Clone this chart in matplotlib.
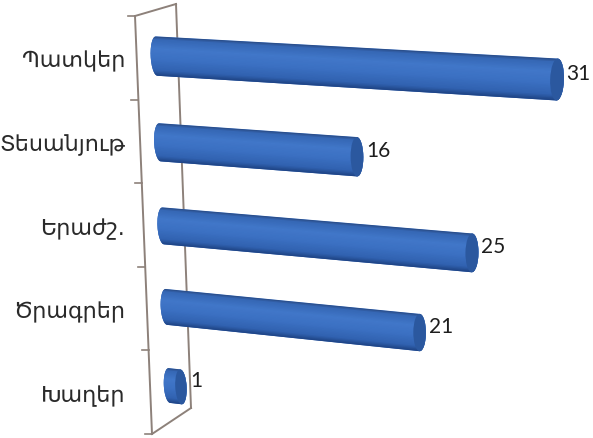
import numpy as np
import matplotlib
matplotlib.use('Agg')
import matplotlib.pyplot as plt
from matplotlib.transforms import Transform, IdentityTransform, offset_copy
from matplotlib.patches import Ellipse, PathPatch, Rectangle
from matplotlib.path import Path
from matplotlib.lines import Line2D
from matplotlib.colors import LinearSegmentedColormap

# data
categories = ['Պատկեր', 'Տեսանյութ', 'Երաժշ.', 'Ծրագրեր', 'Խաղեր']
values = [31, 16, 25, 21, 1]

W, H = 593, 439
XMAX = 32

# where the corners of the (flat) plot plane land in the picture, image pixels (y down)
quad_img = [(155, 13), (572.6, 34.3), (556.6, 471.7), (171, 425)]   # TL, TR, BR, BL
# side wall of the 3d frame, image pixels
wall_front = [(135, 17), (152, 435)]
wall_back = [(176, 5), (191, 409)]


class Warp(Transform):
    """projective warp in display space, gives the 3d look"""
    input_dims = output_dims = 2
    is_separable = False
    has_inverse = True

    def __init__(self, M):
        super().__init__()
        self.M = M

    def transform_non_affine(self, pts):
        pts = np.asarray(pts, float).reshape(-1, 2)
        p = np.column_stack([pts, np.ones(len(pts))]) @ self.M.T
        return p[:, :2] / p[:, 2:3]

    def inverted(self):
        return Warp(np.linalg.inv(self.M))


def homography(src, dst):
    A, b = [], []
    for (x, y), (u, v) in zip(src, dst):
        A.append([x, y, 1, 0, 0, 0, -u * x, -u * y]); b.append(u)
        A.append([0, 0, 0, x, y, 1, -v * x, -v * y]); b.append(v)
    h = np.linalg.solve(np.array(A, float), np.array(b, float))
    return np.append(h, 1).reshape(3, 3)


fig = plt.figure(figsize=(W / 100, H / 100), dpi=100)
fig.patch.set_facecolor('white')
ax = fig.add_axes([0.3, 0.05, 0.65, 0.9])
ax.set_xlim(0, XMAX)
ax.set_ylim(len(categories) - 0.5, -0.5)
ax.axis('off')

x0, y0, x1, y1 = ax.bbox.extents
src = [(x0, y1), (x1, y1), (x1, y0), (x0, y0)]
dst = [(x, H - y) for x, y in quad_img]
T = ax.transData + Warp(homography(src, dst))

# wall of the frame
wall_c = '#8d817a'
pix = IdentityTransform()
for a, b in [(wall_front[0], wall_front[1]), (wall_back[0], wall_back[1]),
             (wall_front[0], wall_back[0]), (wall_front[1], wall_back[1])]:
    ax.add_line(Line2D([a[0], b[0]], [H - a[1], H - b[1]], transform=pix, color=wall_c,
                       lw=1.4, clip_on=False, zorder=1))
n = len(categories)
fx = np.linspace(wall_front[0][0], wall_front[1][0], n + 1)
fy = np.linspace(wall_front[0][1], wall_front[1][1], n + 1)
for tx, ty in zip(fx, fy):
    ax.add_line(Line2D([tx - 7, tx], [H - ty, H - ty], transform=pix, color=wall_c,
                       lw=1.2, clip_on=False, zorder=1))

# category labels
for i, lab in enumerate(categories):
    ly = (fy[i] + fy[i + 1]) / 2 + 3
    fig.text(125 / W, 1 - ly / H, lab, ha='right', va='center', fontsize=16,
             family=['DejaVu Sans'], color='#2a2a2a')

# cylinders
cmap = LinearSegmentedColormap.from_list('cyl', [
    (0.0, '#2a4a80'), (0.07, '#3567b5'), (0.32, '#4177c9'),
    (0.58, '#3b70c2'), (0.86, '#3162b0'), (1.0, '#1e4383')])
h = 0.45      # bar thickness, category units
w = 0.5       # half width of the end ellipse, value units
ts = np.linspace(np.pi / 2, -np.pi / 2, 25)

for i, v in enumerate(values):
    top, bot = i - h / 2, i + h / 2
    right = [(v + w * np.cos(t), i - h / 2 * np.sin(t)) for t in ts]
    left = [(-w * np.cos(t), i + h / 2 * np.sin(t)) for t in ts]
    verts = [(0, top), (v, top)] + right + [(v, bot), (0, bot)] + left + [(0, top)]
    sil = PathPatch(Path(verts), facecolor=cmap(0.5), edgecolor='none',
                    transform=T, zorder=3, clip_on=False)
    ax.add_patch(sil)
    ns = 30
    for k in range(ns):
        r = Rectangle((-w - 0.1, top + h * k / ns), v + 2 * w + 0.2, h / ns + 0.01,
                      facecolor=cmap((k + 0.5) / ns), edgecolor='none',
                      transform=T, zorder=4)
        r.set_clip_path(sil)   # before add_patch so the axes box is not used
        ax.add_patch(r)
    cap = Ellipse((v, i), 2 * w, h, facecolor='#2b589f', edgecolor='none',
                  transform=T, zorder=5, clip_on=False)
    ax.add_patch(cap)
    ax.text(v, i, str(v), transform=offset_copy(T, fig=fig, x=9, y=7, units='dots'),
            ha='left', va='center', fontsize=15, family=['Lato', 'DejaVu Sans'],
            color='#1e1e1e', zorder=6, clip_on=False)

fig.savefig('out.png', dpi=100, facecolor='white')
